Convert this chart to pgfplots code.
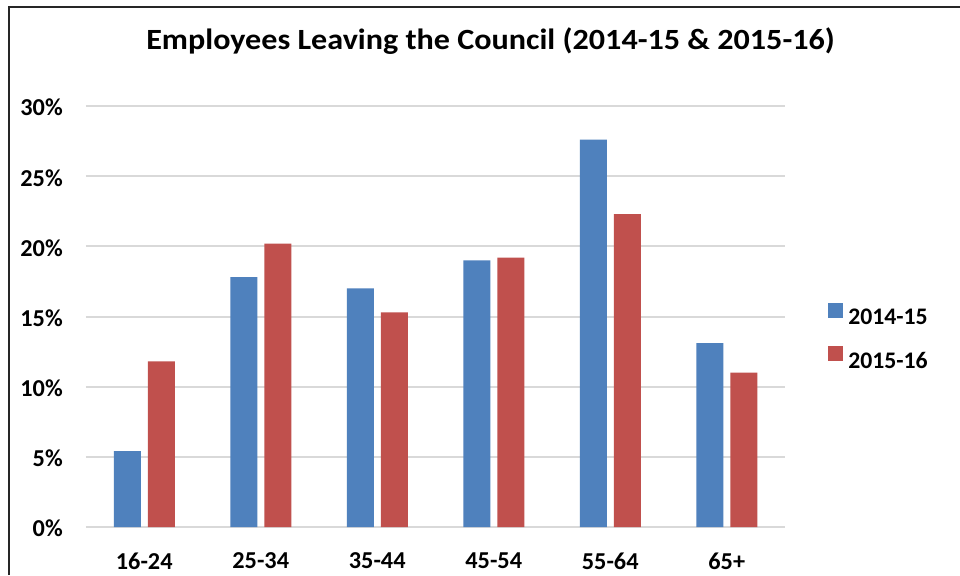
\documentclass[border=0pt]{standalone}
\usepackage{fontspec}
\setmainfont{Carlito}
\newfontfamily\titlefont[FakeStretch=1.095]{Carlito}
\usepackage{pgfplots}
\pgfplotsset{compat=1.18}
\definecolor{cblue}{HTML}{4F81BD}
\definecolor{cred}{HTML}{C0504D}
\definecolor{cgrid}{HTML}{D9D9D9}
\begin{document}
\begin{tikzpicture}
\useasboundingbox (0,0) rectangle (720pt,431.25pt);
\fill[white] (0,0) rectangle (720pt,431.25pt);
\draw[line width=1.5pt, black!85] (6.75pt,0) -- (6.75pt,426pt) -- (720pt,426pt);
\begin{axis}[
  at={(64.5pt,36pt)}, anchor=south west,
  scale only axis, width=524.25pt, height=315.75pt,
  ybar=5.25pt, bar width=20.25pt,
  xmin=-0.5, xmax=5.5, ymin=0, ymax=30,
  xtick=data, xticklabels={16-24,25-34,35-44,45-54,55-64,65+},
  ytick={0,5,10,15,20,25,30}, yticklabels={0\%,5\%,10\%,15\%,20\%,25\%,30\%},
  ymajorgrids, grid style={cgrid, line width=1.5pt},
  axis line style={draw=none},
  major tick length=0pt,
  tick label style={font=\fontsize{18.2}{20}\selectfont\bfseries, inner sep=0pt},
  yticklabel style={anchor=east, xshift=-17.25pt, yshift=-1.2pt},
  xticklabel style={anchor=north, yshift=-19pt},
  legend style={at={(1.0615,0.4525)}, anchor=west, draw=none, fill=none,
    font=\fontsize{17.8}{20}\selectfont\bfseries, row sep=15pt, column sep=3.75pt,
    inner sep=0pt, nodes={inner sep=0pt}},
  legend cell align=left,
]
\addplot[fill=cblue, draw=none, legend image code/.code={\fill[cblue] (0pt,0pt) rectangle (11.25pt,11.25pt);}]
  coordinates {(0,5.4) (1,17.8) (2,17.0) (3,19.0) (4,27.6) (5,13.1)};
\addplot[fill=cred, draw=none, legend image code/.code={\fill[cred] (0pt,0pt) rectangle (11.25pt,11.25pt);}]
  coordinates {(0,11.8) (1,20.2) (2,15.3) (3,19.2) (4,22.3) (5,11.0)};
\legend{2014-15,2015-16}
\end{axis}
\node[font=\titlefont\fontsize{22}{26}\selectfont\bfseries, anchor=base, inner sep=0pt] at (367.9pt,394.3pt) {Employees Leaving the Council (2014-15 \& 2015-16)};
\end{tikzpicture}
\end{document}
